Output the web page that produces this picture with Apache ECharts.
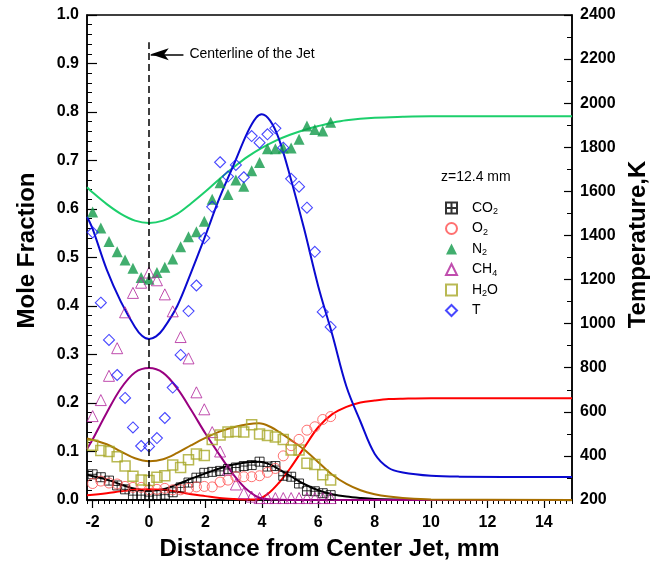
<!DOCTYPE html>
<html><head><meta charset="utf-8">
<script src="https://cdn.jsdelivr.net/npm/echarts@6/dist/echarts.min.js"></script>
<style>html,body{margin:0;padding:0;background:#fff}#c{width:651px;height:563px}</style>
</head><body><div id="c"></div>
<script>
// ---- tick labels ----
const xTickValues = [-2, 0, 2, 4, 6, 8, 10, 12, 14];
// ---- measured points (distance, mm) ----
const xMeas = [-2.0,-1.71,-1.42,-1.13,-0.85,-0.57,-0.28,0,0.28,0.56,0.84,1.12,1.40,1.68,1.96,2.24,2.52,2.80,3.08,3.36,3.64,3.92,4.20,4.48,4.76,5.04,5.32,5.60,5.88,6.16,6.44];
const co2Meas = [0.053,0.047,0.040,0.030,0.022,0.010,0.010,0.008,0.010,0.011,0.016,0.026,0.036,0.046,0.056,0.058,0.060,0.064,0.067,0.070,0.072,0.079,0.069,0.070,0.050,0.048,0.034,0.019,0.018,0.014,0.010];
const o2Meas = [0.034,0.039,0.035,0.033,0.028,0.026,0.026,0.021,0.022,0.024,0.021,0.021,0.024,0.027,0.028,0.027,0.037,0.041,0.048,0.048,0.048,0.050,0.057,0.065,0.091,0.112,0.125,0.144,0.151,0.166,0.172];
const n2Meas = [0.594,0.561,0.533,0.512,0.495,0.478,0.459,0.455,0.469,0.480,0.497,0.522,0.543,0.553,0.575,0.620,0.654,0.630,0.660,0.647,0.679,0.696,0.724,0.724,0.726,0.726,0.744,0.771,0.764,0.761,0.779];
const ch4Meas = [0.173,0.206,0.256,0.313,0.387,0.427,0.448,0.469,0.453,0.424,0.389,0.336,0.292,0.222,0.187,0.140,0.100,0.063,0.032,0.014,0.007,0.004,0.004,0.004,0.004,0.004,0.004,0.004,0.004,0.004,0.004];
const h2oMeas = [0.113,0.102,0.100,0.089,0.070,0.049,0.041,0.040,0.047,0.050,0.072,0.067,0.083,0.095,0.092,0.125,0.134,0.140,0.141,0.140,0.155,0.136,0.133,0.130,0.125,0.103,0.103,0.076,0.073,0.052,0.041];
const tMeas = [1414,1095,926,767,663,529,445,443,481,572,710,858,1057,1173,1388,1530,1732,1667,1720,1664,1851,1821,1859,1886,1798,1657,1621,1526,1326,1053,985];
// ---- model curves ----
const co2LineX = [-2.2,-1.5,-1,-0.5,0,0.5,1,1.5,2,2.5,3,3.5,3.9,4.3,4.7,5,5.5,6,6.5,7,7.5,8,9,10,15];
const co2LineY = [0.052,0.042,0.032,0.023,0.019,0.022,0.032,0.044,0.055,0.065,0.073,0.078,0.079,0.073,0.060,0.050,0.033,0.020,0.012,0.007,0.004,0.002,0.001,0,0];
const o2LineX = [-2.2,-1.5,-1,-0.5,0,0.5,1,1.5,2,2.5,3,3.5,3.8,4.2,4.6,5,5.5,6,6.5,7,7.5,8,8.5,9,10,15];
const o2LineY = [0.010,0.014,0.018,0.021,0.022,0.021,0.017,0.012,0.008,0.004,0.002,0.001,0.001,0.012,0.035,0.065,0.108,0.150,0.177,0.192,0.201,0.205,0.208,0.209,0.210,0.210];
const n2LineX = [-2.2,-2,-1.5,-1,-0.5,0,0.5,1,1.5,2,2.5,3,3.5,4,4.5,5,5.5,6,6.5,7,8,9,10,15];
const n2LineY = [0.645,0.634,0.610,0.590,0.576,0.571,0.576,0.590,0.612,0.636,0.662,0.686,0.708,0.726,0.741,0.753,0.763,0.771,0.778,0.783,0.788,0.790,0.791,0.791];
const ch4LineX = [-2.2,-2,-1.5,-1,-0.5,0,0.5,1,1.5,2,2.5,3,3.5,4,4.5,5,15];
const ch4LineY = [0.105,0.125,0.180,0.230,0.263,0.272,0.262,0.230,0.185,0.137,0.093,0.052,0.020,0.003,0.001,0,0];
const h2oLineX = [-2.2,-1.5,-1,-0.5,0,0.5,1,1.5,2,2.5,3,3.5,3.9,4.3,4.7,5,5.5,6,6.5,7,7.5,8,8.5,9,10,15];
const h2oLineY = [0.127,0.115,0.100,0.086,0.080,0.084,0.097,0.113,0.128,0.141,0.150,0.156,0.158,0.151,0.137,0.125,0.104,0.078,0.052,0.033,0.020,0.012,0.007,0.004,0.001,0];
const tLineX = [-2.2,-2,-1.5,-1,-0.5,-0.25,0,0.25,0.5,1,1.5,2,2.5,3,3.5,3.8,4,4.3,4.6,5,5.5,6,6.5,7,7.5,8,8.5,9,10,11,15];
const tLineY = [1485,1430,1245,1100,985,945,930,942,975,1080,1235,1400,1570,1720,1870,1935,1950,1920,1840,1670,1430,1170,950,715,555,410,345,325,310,306,304];

const pair = (xs, ys) => xs.map((x, i) => [x, ys[i]]);
const FONT = '"Liberation Sans", Arial, sans-serif';

const minorX = [];
for (let v = -22; v <= 150; v += 2) minorX.push(v / 10);

const legendLabels = {CO2:'CO{s|2}', O2:'O{s|2}', N2:'N{s|2}', CH4:'CH{s|4}', H2O:'H{s|2}O', T:'T'};

function scatter(name, xs, ys, symbol, size, style, yIdx) {
  return {type:'scatter', name, data: pair(xs, ys), symbol, symbolSize: size,
    yAxisIndex: yIdx || 0, itemStyle: style, z: 3};
}
function curve(name, xs, ys, color, yIdx, extra) {
  return Object.assign({type:'line', name, data: pair(xs, ys), showSymbol:false, symbol:'none',
    smooth: 0.35, yAxisIndex: yIdx || 0, lineStyle:{color, width:2}, itemStyle:{color}, z: 2}, extra || {});
}

const chart = echarts.init(document.getElementById('c'));
chart.setOption({
  animation: false,
  backgroundColor: '#fff',
  grid: {left: 87, right: 79, top: 15, bottom: 63, containLabel:false, outerBoundsMode:'none',
    show: true, borderColor: '#000', borderWidth: 1.5},
  xAxis: [{
    type:'value', min:-2.2, max:15, position:'bottom',
    name:'Distance from Center Jet, mm', nameLocation:'middle', nameGap:37,
    nameTextStyle:{fontFamily:FONT, fontWeight:'bold', fontSize:24, color:'#000'},
    axisLine:{onZero:false, lineStyle:{color:'#000', width:1.5}},
    axisTick:{customValues: xTickValues, length:8, lineStyle:{color:'#000', width:1.2}},
    axisLabel:{customValues: xTickValues, fontFamily:FONT, fontWeight:'bold', fontSize:16, color:'#000', margin:15},
    splitLine:{show:false}
  }, {
    type:'value', min:-2.2, max:15, position:'bottom', offset:0,
    axisLine:{show:false, onZero:false},
    axisTick:{customValues: minorX, length:4, lineStyle:{color:'#000', width:1}},
    axisLabel:{show:false}, splitLine:{show:false}
  }],
  yAxis: [{
    type:'value', min:0, max:1, interval:0.1, position:'left',
    name:'Mole Fraction', nameLocation:'middle', nameGap:48,
    nameTextStyle:{fontFamily:FONT, fontWeight:'bold', fontSize:24, color:'#000', padding:[0,0,0,14]},
    axisLine:{show:true, onZero:false, lineStyle:{color:'#000', width:1.5}},
    axisTick:{inside:true, length:10, lineStyle:{color:'#000', width:1.2}},
    minorTick:{show:true, splitNumber:5, length:5, lineStyle:{color:'#000', width:1}},
    axisLabel:{formatter: v => v.toFixed(1), fontFamily:FONT, fontWeight:'bold', fontSize:16, color:'#000', margin:8},
    splitLine:{show:false}
  }, {
    type:'value', min:200, max:2400, interval:200, position:'right',
    name:'Temperature,K', nameLocation:'middle', nameGap:45,
    nameTextStyle:{fontFamily:FONT, fontWeight:'bold', fontSize:24, color:'#000', padding:[0,0,0,26]},
    axisLine:{show:true, onZero:false, lineStyle:{color:'#000', width:1.5}},
    axisTick:{inside:true, length:8, lineStyle:{color:'#000', width:1.2}},
    minorTick:{show:true, splitNumber:2, length:5, lineStyle:{color:'#000', width:1}},
    axisLabel:{formatter: v => String(v), fontFamily:FONT, fontWeight:'bold', fontSize:16, color:'#000', margin:8},
    splitLine:{show:false}
  }],
  legend: {
    orient:'vertical', left:440, top:196, itemWidth:11, itemHeight:11, itemGap:5,
    data:['CO2','O2','N2','CH4','H2O','T'],
    formatter: n => legendLabels[n],
    textStyle:{fontFamily:FONT, fontSize:14, color:'#000', padding:[0,0,0,10],
      rich:{s:{fontFamily:FONT, fontSize:9, color:'#000', verticalAlign:'bottom', padding:[8,0,0,0]}}}
  },
  graphic: [{type:'text', left:441, top:170, style:{text:'z=12.4 mm', font:'14px "Liberation Sans", Arial', fill:'#000'}}],
  series: [
    curve('CO2 model', co2LineX, co2LineY, '#000000'),
    curve('O2 model', o2LineX, o2LineY, '#ff0000'),
    curve('N2 model', n2LineX, n2LineY, '#1ccf6c', 0, {
      markLine: {silent:true, animation:false, symbol:['none','none'],
        data: [
          [{coord:[0,0], lineStyle:{type:[7,4], color:'#000', width:1.5}}, {coord:[0,0.944]}],
          [{coord:[1.22,0.919], symbol:'none', lineStyle:{type:'solid', color:'#000', width:1.5},
            label:{show:true, position:'start', formatter:'Centerline of the Jet', fontFamily:FONT, fontSize:14, color:'#000', distance:6}},
           {coord:[0.06,0.919], symbol:'arrow', symbolSize:[9,18]}]
        ],
        label:{show:false}
      }
    }),
    curve('CH4 model', ch4LineX, ch4LineY, '#990080'),
    curve('H2O model', h2oLineX, h2oLineY, '#a87000'),
    curve('T model', tLineX, tLineY, '#0a0ad0', 1),
    scatter('CO2', xMeas, co2Meas, 'path://M0,0H10V10H0Z M5,0V10 M0,5H10', 9, {color:'rgba(0,0,0,0)', borderColor:'#000', borderWidth:1}),
    scatter('O2', xMeas, o2Meas, 'circle', 10, {color:'rgba(0,0,0,0)', borderColor:'#ff4d4d', borderWidth:1}),
    scatter('N2', xMeas, n2Meas, 'triangle', 11, {color:'#119a4a'}),
    scatter('CH4', xMeas, ch4Meas, 'triangle', 11, {color:'rgba(0,0,0,0)', borderColor:'#b0209a', borderWidth:1}),
    scatter('H2O', xMeas, h2oMeas, 'rect', 10, {color:'rgba(0,0,0,0)', borderColor:'#a8a828', borderWidth:1.5}),
    scatter('T', xMeas, tMeas, 'diamond', 11, {color:'rgba(0,0,0,0)', borderColor:'#1a1aff', borderWidth:1.1}, 1)
  ]
});
</script></body></html>
